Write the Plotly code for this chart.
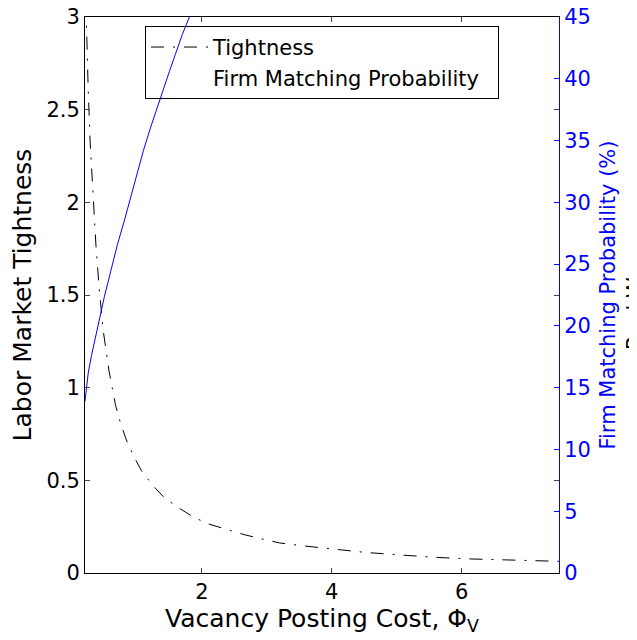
import plotly.graph_objects as go

# Labor market tightness against the vacancy posting cost (left axis)
phi_tight = [0.20, 0.22, 0.25, 0.28, 0.32, 0.37, 0.42, 0.48, 0.57, 0.67, 0.74, 0.83,
             0.95, 1.07, 1.25, 1.42, 1.65, 1.88, 2.10, 2.38, 2.65, 2.91, 3.20, 3.60,
             3.98, 4.52, 5.07, 5.61, 6.16, 6.70, 7.25, 7.50]
tightness = [3.25, 2.95, 2.60, 2.32, 2.04, 1.76, 1.53, 1.31, 1.09, 0.905, 0.817, 0.724,
             0.630, 0.552, 0.470, 0.407, 0.350, 0.300, 0.265, 0.234, 0.207, 0.185, 0.162, 0.145,
             0.130, 0.111, 0.097, 0.084, 0.0756, 0.069, 0.065, 0.063]

# Firm matching probability in % (right axis)
phi_prob = [0.20, 0.25, 0.30, 0.35, 0.40, 0.50, 0.60, 0.70, 0.80, 0.90, 1.00,
            1.10, 1.20, 1.30, 1.40, 1.50, 1.60, 1.70, 1.80, 1.90]
match_prob = [13.9, 16.2, 17.6, 18.8, 20.0, 22.4, 24.5, 26.6, 28.4, 30.3, 32.4,
              34.2, 35.9, 37.5, 39.0, 40.6, 42.1, 43.6, 44.9, 46.2]

x_ticks = [2, 4, 6]
font = dict(family="DejaVu Sans", size=21, color="black")
blue = "#0000ff"

fig = go.Figure()
fig.add_trace(go.Scatter(
    x=phi_tight, y=tightness, mode="lines", name="Tightness",
    line=dict(color="black", width=1, dash="13px,9px,2px,9px"),
))
# second legend entry has no visible sample, like the original
fig.add_trace(go.Scatter(
    x=[None], y=[None], mode="lines", name="Firm Matching Probability\u00a0\u00a0",
    line=dict(color="rgba(0,0,0,0)", width=1),
))
fig.add_trace(go.Scatter(
    x=phi_prob, y=match_prob, mode="lines", yaxis="y2", showlegend=False,
    line=dict(color=blue, width=1),
))

# the page adds an 8px body margin, so the figure is 8px smaller
fig.update_layout(
    width=629, height=632,
    margin=dict(l=77, r=78, t=9, b=67),
    plot_bgcolor="white", paper_bgcolor="white",
    font=font,
    showlegend=True,
    legend=dict(
        x=0.1266, y=0.984, xanchor="left", yanchor="top",
        bgcolor="rgba(0,0,0,0)", bordercolor="black", borderwidth=1,
        itemwidth=57, font=font,
    ),
    xaxis=dict(
        range=[0.2, 7.5], tickvals=x_ticks, ticks="inside", ticklen=5,
        showline=True, linecolor="black", linewidth=1, mirror="ticks",
        showgrid=False, zeroline=False, automargin=False,
        ticklabeloverflow="allow",
        title=dict(text="Vacancy Posting Cost, Φ<sub>V</sub>", standoff=0),
    ),
    yaxis=dict(
        range=[0, 3], dtick=0.5, ticks="inside", ticklen=5,
        showline=True, linecolor="black", linewidth=1, mirror="ticks",
        showgrid=False, zeroline=False, automargin=False,
        ticklabeloverflow="allow",
        title=dict(text="Labor Market Tightness", standoff=8),
    ),
    yaxis2=dict(
        range=[0, 45], dtick=5, overlaying="y", side="right",
        ticks="inside", ticklen=5, tickcolor=blue,
        showline=True, linecolor=blue, linewidth=1,
        showgrid=False, zeroline=False, automargin=False,
        ticklabeloverflow="allow",
        tickfont=dict(family="DejaVu Sans", size=21, color=blue),
        title=dict(text="Firm Matching Probability (%)", standoff=10,
                   font=dict(family="DejaVu Sans", size=21, color=blue)),
    ),
    annotations=[dict(
        text="Real Wage", textangle=-90, showarrow=False,
        xref="paper", yref="paper", x=(613 - 77) / 474, y=0.5,
        xanchor="left", yanchor="middle", font=font,
    )],
)

fig.write_html("out.html")
